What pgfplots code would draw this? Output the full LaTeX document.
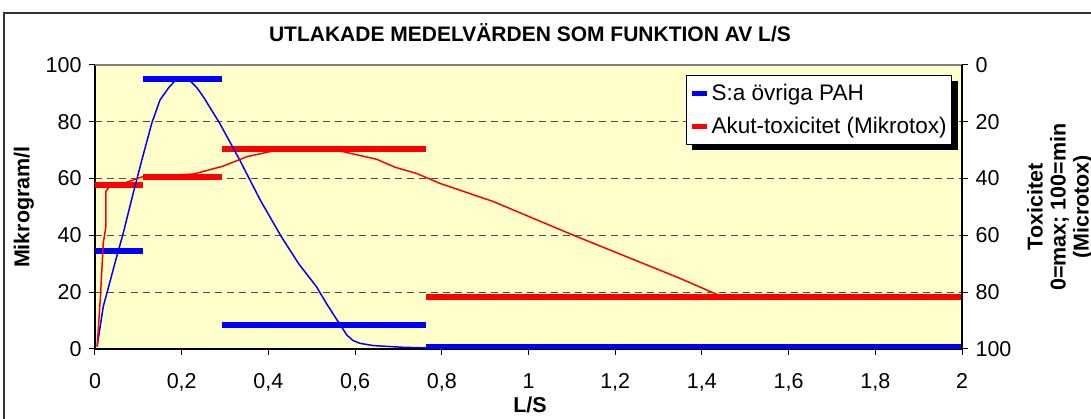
\documentclass[border=0pt]{standalone}
\usepackage{fontspec}
\setmainfont{Liberation Sans}
\usepackage{pgfplots}
\pgfplotsset{compat=1.18}
\definecolor{plotbg}{HTML}{FFFFCC}
\definecolor{gridc}{HTML}{4D4D4D}
\definecolor{pblue}{HTML}{0000FF}
\definecolor{pred}{HTML}{FF0000}
\begin{document}
\begin{tikzpicture}[x=1pt,y=1pt]
\useasboundingbox (-95,-70) rectangle (996,349);
\fill[white] (-95,-70) rectangle (996,349);
\draw[line width=1.5pt,black!80] (-91,-90) rectangle (1010,336);
\begin{axis}[
  at={(0,0)}, anchor=south west,
  scale only axis, width=867pt, height=284pt,
  xmin=0, xmax=2, ymin=0, ymax=100,
  axis background/.style={fill=plotbg},
  axis x line*=bottom, axis y line*=left,
  axis line style={black, line width=1.2pt},
  xtick={0,0.2,0.4,0.6,0.8,1,1.2,1.4,1.6,1.8,2},
  ytick={0,20,40,60,80,100},
  tick align=outside, major tick length=6pt,
  tick style={black, line width=1pt},
  ymajorgrids, grid style={gridc, dash pattern=on 7pt off 5pt, line width=0.9pt},
  /pgf/number format/assume math mode=true,
  xticklabel style={/pgf/number format/.cd, use comma, fixed, precision=1, /tikz/.cd, yshift=-15pt},
  yticklabel style={xshift=-4pt},
  ticklabel style={font=\fontsize{21.5}{24}\selectfont},
  xlabel={L/S}, ylabel={Mikrogram/l},
  label style={font=\fontsize{21.5}{24}\selectfont\bfseries},
  xlabel style={at={(axis description cs:0.5017,-0.197)}, anchor=center},
  ylabel style={at={(axis description cs:-0.082,0.5)}, anchor=center},
  legend style={name=leg, at={(0.682,0.965)}, anchor=north west, draw=black, line width=0.8pt, fill=white,
    font=\fontsize{22.5}{26}\selectfont, row sep=11pt, inner xsep=3pt, inner ysep=7pt,
    cells={anchor=west}},
  legend image code/.code={\draw[#1, line width=5pt] (0pt,0pt) -- (15pt,0pt);},
]
\addlegendimage{pblue}
\addlegendentry{S:a övriga PAH}
\addlegendimage{pred}
\addlegendentry{Akut-toxicitet (Mikrotox)}
% thick mean bars, blue
\addplot[pblue, line width=6.5pt, forget plot] coordinates {(0,34.5) (0.11,34.5)};
\addplot[pblue, line width=6.5pt, forget plot] coordinates {(0.11,95) (0.293,95)};
\addplot[pblue, line width=6.5pt, forget plot] coordinates {(0.293,8.5) (0.764,8.5)};
\addplot[pblue, line width=6.5pt, forget plot] coordinates {(0.764,0.6) (2,0.6)};
% thick mean bars, red
\addplot[pred, line width=6.5pt, forget plot] coordinates {(0,57.7) (0.11,57.7)};
\addplot[pred, line width=6.5pt, forget plot] coordinates {(0.11,60.6) (0.293,60.6)};
\addplot[pred, line width=6.5pt, forget plot] coordinates {(0.293,70.4) (0.764,70.4)};
\addplot[pred, line width=6.5pt, forget plot] coordinates {(0.764,18.3) (2,18.3)};
% thin curves
\addplot[pblue, line width=1.5pt, forget plot] coordinates {
(0.005,1) (0.019,14.9) (0.05,32.5) (0.065,40.7) (0.088,54.8) (0.108,66.5)
(0.131,79.5) (0.15,87.7) (0.17,92) (0.185,94.5) (0.219,94.5) (0.235,92)
(0.25,88.8) (0.288,79.4) (0.334,66.5) (0.381,52.5) (0.43,39.5) (0.47,30)
(0.511,21.9) (0.534,16) (0.555,11) (0.581,4.9) (0.595,3) (0.611,2)
(0.642,1.2) (0.711,0.6) (0.76,0.4) (2,0.3)};
\addplot[pred, line width=1.5pt, forget plot] coordinates {
(0.005,0.8) (0.013,19.6) (0.019,37.2) (0.025,43) (0.025,55.4) (0.035,57.7)
(0.065,58.3) (0.111,60.7) (0.227,61.6) (0.296,64.4) (0.35,67.7) (0.419,70)
(0.557,70) (0.65,66.8) (0.692,64) (0.742,61.8) (0.796,58.3) (0.919,51.9)
(1.103,40.1) (1.349,24.9) (1.438,19) (2,19)};
\end{axis}
\draw[gray, line width=1.2pt] (0,284) -- (867,284);
\begin{axis}[
  at={(0,0)}, anchor=south west,
  scale only axis, width=867pt, height=284pt,
  xmin=0, xmax=2, ymin=0, ymax=100, y dir=reverse,
  axis x line=none, axis y line*=right,
  axis line style={black, line width=1.2pt},
  ytick={0,20,40,60,80,100},
  tick align=outside, major tick length=6pt,
  tick style={black, line width=1pt},
  /pgf/number format/assume math mode=true,
  yticklabel style={xshift=4pt},
  ticklabel style={font=\fontsize{21.5}{24}\selectfont},
  ylabel={Toxicitet\\0=max; 100=min\\(Microtox)},
  ylabel style={at={(axis description cs:1.113,0.5)}, anchor=center, align=center,
    font=\fontsize{21.5}{23}\selectfont\bfseries},
]
\end{axis}
\fill[black] ([yshift=-6pt]leg.north east) rectangle ([xshift=6pt,yshift=-6pt]leg.south east);
\fill[black] ([xshift=6pt]leg.south west) rectangle ([xshift=6pt,yshift=-6pt]leg.south east);
\node[font=\fontsize{21}{24}\selectfont\bfseries] at (435,316) {UTLAKADE MEDELVÄRDEN SOM FUNKTION AV L/S};
\end{tikzpicture}
\end{document}
